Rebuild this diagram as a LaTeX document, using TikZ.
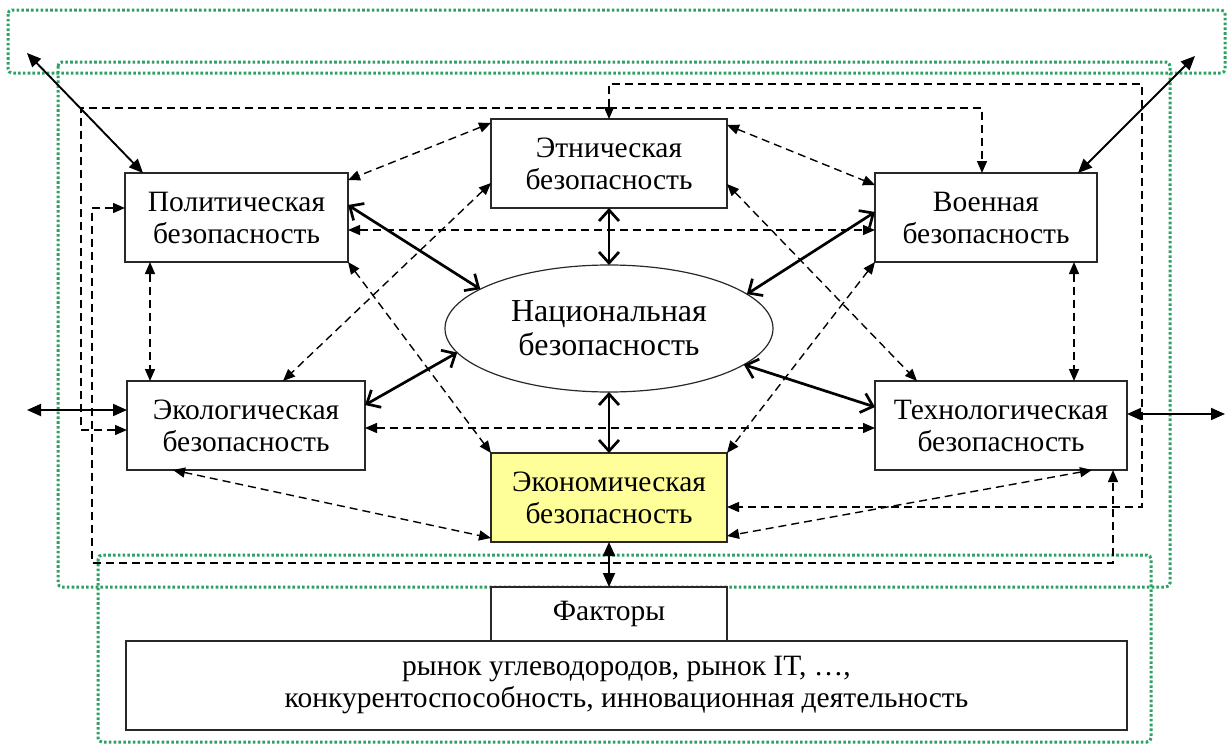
\documentclass[tikz,border=0pt]{standalone}
\usepackage{fontspec}
\setmainfont{Liberation Serif}
\usetikzlibrary{arrows.meta,shapes.geometric}
\definecolor{grn}{RGB}{46,160,100}
\definecolor{ylw}{RGB}{255,255,153}
\definecolor{bord}{RGB}{40,40,40}
\begin{document}
\begin{tikzpicture}[x=1pt,y=-1pt,
 box/.style={draw=bord,line width=1.5pt,fill=white,minimum height=89pt,inner sep=0pt,outer sep=0pt,align=center,font=\fontsize{29.5}{32}\selectfont},
 grnbox/.style={draw=grn,line width=3pt,dash pattern=on 2.6pt off 2.2pt,rounded corners=4pt},
 biga/.style={line width=2.7pt,{Straight Barb[length=11pt,width=20pt]}-{Straight Barb[length=11pt,width=20pt]}},
 thina/.style={line width=1.9pt,{Triangle[length=14pt,width=12pt]}-{Triangle[length=14pt,width=12pt]}},
 dasha/.style={line width=1.4pt,dash pattern=on 8pt off 5pt,{Triangle[length=12pt,width=10pt]}-{Triangle[length=12pt,width=10pt]}},
]
\useasboundingbox (0,0) rectangle (1231,744);
% green dotted frames
\draw[grnbox] (8,10) rectangle (1225,73);
\draw[grnbox] (58,62) rectangle (1170,587);
\draw[grnbox] (98,555) rectangle (1151,742);
% nodes
\node[box,minimum width=223pt] (pol) at (236.5,217.5) {Политическая\\безопасность};
\node[box,minimum width=236pt] (eth) at (609,163.5) {Этническая\\безопасность};
\node[box,minimum width=222pt] (mil) at (986,217.5) {Военная\\безопасность};
\node[box,minimum width=238pt] (eco) at (246,425.5) {Экологическая\\безопасность};
\node[box,minimum width=252pt] (tech) at (1001,425.5) {Технологическая\\безопасность};
\node[box,minimum width=236pt,fill=ylw] (econ) at (609,497.5) {Экономическая\\безопасность};
\node[ellipse,draw=bord,line width=1.2pt,fill=white,minimum width=328pt,minimum height=127pt,inner sep=0pt,outer sep=0pt,align=center,font=\fontsize{32}{34}\selectfont] (nat) at (609,328.5) {Национальная\\безопасность};
\node[box,minimum width=236pt,minimum height=54pt] (fac) at (609,614) {Факторы};
\node[box,minimum width=1001pt] (list) at (626.5,685.5) {рынок углеводородов, рынок IT, \dots,\\конкурентоспособность, инновационная деятельность};
% thick links to the centre
\draw[biga] (pol.east |- 0,205) -- (nat.163);
\draw[biga] (eth.south) -- (nat.north);
\draw[biga] (mil.west |- 0,212) -- (nat.14);
\draw[biga] (eco.east |- 0,405) -- (nat.189);
\draw[biga] (tech.west |- 0,407) -- (nat.345);
\draw[biga] (econ.north) -- (nat.south);
% thin solid double arrows
\coordinate (tl) at (27,53);
\coordinate (tr) at (1195,56);
\coordinate (ll) at (27,410);
\coordinate (rr) at (1225,414);
\draw[thina] (143,0 |- pol.north) -- (tl);
\draw[thina] (1078,0 |- mil.north) -- (tr);
\draw[thina] (eco.west |- 0,410) -- (ll);
\draw[thina] (tech.east |- 0,414) -- (rr);
\draw[thina] (econ.south) -- (fac.north);
% dashed links
\draw[dasha] (150,0 |- pol.south) -- (150,0 |- eco.north);
\draw[dasha] (1074,0 |- mil.south) -- (1074,0 |- tech.north);
\draw[dasha] (pol.east |- 0,230) -- (mil.west |- 0,230);
\draw[dasha] (eco.east |- 0,428) -- (tech.west |- 0,428);
\draw[dasha] (eth.west |- 0,123) -- (pol.east |- 0,180);
\draw[dasha] (eth.east |- 0,125) -- (mil.west |- 0,185);
\draw[dasha] (eth.west |- 0,183) -- (283,0 |- eco.north);
\draw[dasha] (eth.east |- 0,184) -- (917,0 |- tech.north);
\draw[dasha] (pol.south east) -- (econ.north west);
\draw[dasha] (mil.south west) -- (econ.north east);
\draw[dasha] (173,0 |- eco.south) -- (econ.west |- 0,538);
\draw[dasha] (1092,0 |- tech.south) -- (econ.east |- 0,536);
% routed dashed links
\coordinate (c1) at (1142,84);
\coordinate (c2) at (81,108);
\coordinate (c3) at (92,563);
\draw[dasha] (eth.north) |- (c1) |- (econ.east |- 0,507);
\draw[dasha] (eco.west |- 0,430) -| (c2) -| (982,0 |- mil.north);
\draw[dasha] (pol.west |- 0,208) -| (c3) -| (1113,0 |- tech.south);
\end{tikzpicture}
\end{document}
